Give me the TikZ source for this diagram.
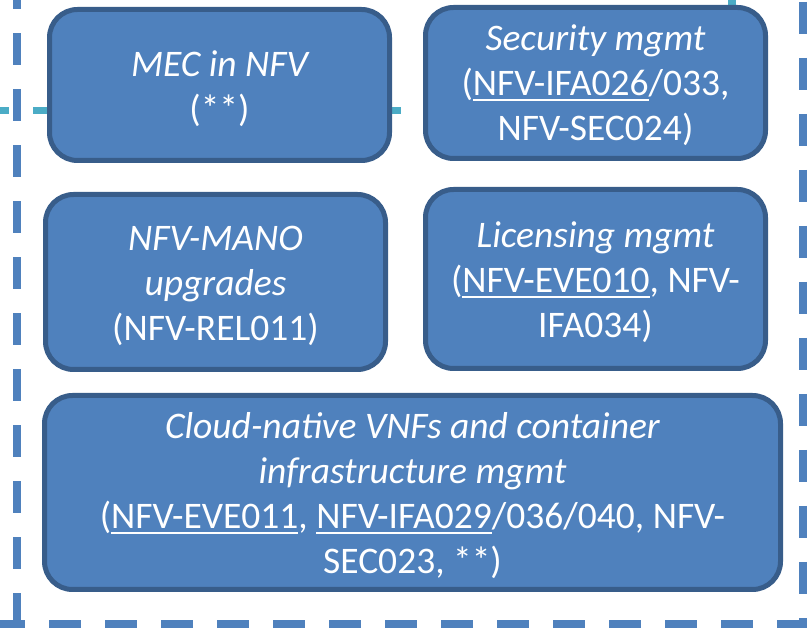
\documentclass[tikz,border=0pt]{standalone}
\usepackage{fontspec}
\setmainfont{Carlito}
\definecolor{boxfill}{HTML}{4F81BD}
\definecolor{boxline}{HTML}{385D8A}
\definecolor{tealline}{HTML}{4BACC6}
\newcommand\ulx[1]{\setbox0\hbox{#1}\rlap{\rule[-6pt]{\wd0}{2pt}}\box0}
\begin{document}
\begin{tikzpicture}[x=1pt,y=-1pt,
  box/.style={draw=boxline, line width=5pt, fill=boxfill, rounded corners=28pt, inner sep=0pt},
  txt/.style={text=white, align=center, inner sep=0pt, font=\fontsize{37.5}{45}\selectfont},
  framedash/.style={draw=boxfill, line width=8pt, dash pattern=on 32pt off 24pt},
  tealdash/.style={draw=tealline, line width=7.5pt, dash pattern=on 32pt off 24pt}]
\useasboundingbox (0,0) rectangle (807,628);
% frames
\coordinate (tA) at (-23,110.5);
\coordinate (tB) at (732,110.5);
\coordinate (tC) at (732,-60);
\draw[tealdash] (tA) -- (tB) -- (tC);
\coordinate (lA) at (16.5,625);
\coordinate (lB) at (16.5,-40);
\coordinate (bA) at (-7,624);
\coordinate (bB) at (812,624);
\coordinate (rA) at (803,-54);
\coordinate (rB) at (803,640);
\draw[framedash] (lA) -- (lB);
\draw[framedash] (bA) -- (bB);
\draw[framedash] (rA) -- (rB);
% boxes
\node[box, minimum width=340pt, minimum height=151pt] (mec) at (219.5,85) {};
\node[box, minimum width=340pt, minimum height=151pt] (sec) at (595.5,83) {};
\node[box, minimum width=340pt, minimum height=175pt] (mano) at (215.5,282) {};
\node[box, minimum width=340pt, minimum height=179pt] (lic) at (595.5,279) {};
\node[box, minimum width=736pt, minimum height=194pt] (cloud) at (412.5,492.5) {};
% texts
\node[txt] (mecT) at ([yshift=-4pt]mec.center)
  {\itshape MEC in NFV\\(**)};
\node[txt] (secT) at ([yshift=-2pt]sec.center)
  {\itshape Security mgmt\\(\ulx{NFV-IFA026}/033,\\NFV-SEC024)};
\node[txt] (manoT) at ([yshift=-4pt]mano.center)
  {\itshape NFV-MANO\\\itshape upgrades\\(NFV-REL011)};
\node[txt] (licT) at ([yshift=-3pt]lic.center)
  {\itshape Licensing mgmt\\(\ulx{NFV-EVE010}, NFV-\\IFA034)};
\node[txt] (cloudT) at ([yshift=-3pt]cloud.center)
  {\itshape Cloud-native VNFs and container\\\itshape infrastructure mgmt\\(\ulx{NFV-EVE011}, \ulx{NFV-IFA029}/036/040, NFV-\\SEC023, **)};
\end{tikzpicture}
\end{document}
